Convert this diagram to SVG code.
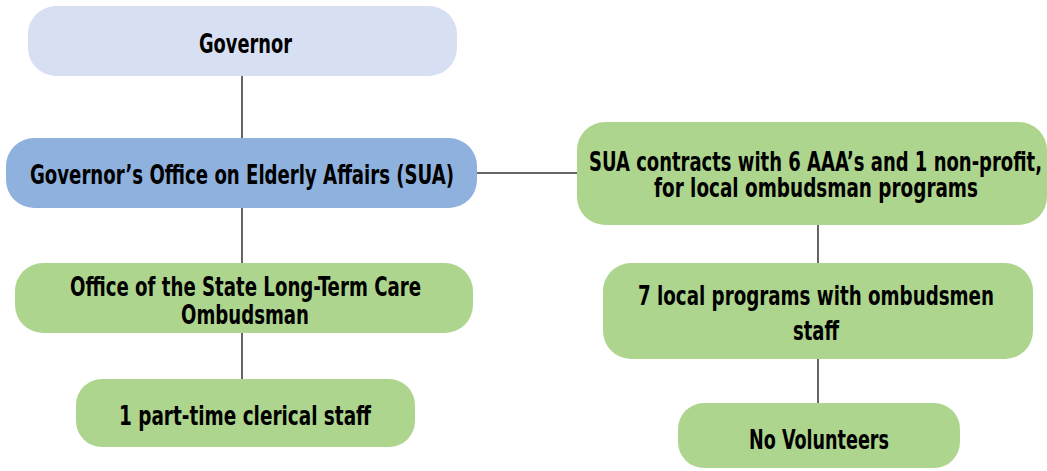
<svg xmlns="http://www.w3.org/2000/svg" width="1047" height="471" viewBox="0 0 1047 471">
<style>
.t{font-family:"Liberation Sans Narrow","DejaVu Sans Condensed","Liberation Sans",sans-serif;font-weight:bold;font-size:27px;fill:#000;text-anchor:middle}
.c{stroke:#666;stroke-width:2;fill:none}
.g{fill:#aed58e}
</style>
<rect width="1047" height="471" fill="#fff"/>
<g id="connectors">
<line class="c" x1="242" y1="76" x2="242" y2="138"/>
<line class="c" x1="242" y1="208" x2="242" y2="263"/>
<line class="c" x1="242" y1="333" x2="242" y2="379"/>
<line class="c" x1="477" y1="173" x2="577" y2="173"/>
<line class="c" x1="818" y1="225" x2="818" y2="263"/>
<line class="c" x1="818" y1="359" x2="818" y2="403"/>
</g>
<g id="governor">
<rect x="28" y="6" width="429" height="70" rx="28" fill="#d7dff2"/>
<text class="t" x="245.5" y="53" textLength="93" lengthAdjust="spacingAndGlyphs">Governor</text>
</g>
<g id="sua">
<rect x="6" y="138" width="471" height="70" rx="28" fill="#8fb1dd"/>
<text class="t" x="242" y="184" textLength="424" lengthAdjust="spacingAndGlyphs">Governor’s Office on Elderly Affairs (SUA)</text>
</g>
<g id="state-ombudsman">
<rect class="g" x="15" y="263" width="458" height="70" rx="28"/>
<text class="t" x="245.5" y="296" textLength="351" lengthAdjust="spacingAndGlyphs">Office of the State Long-Term Care</text>
<text class="t" x="245" y="324" textLength="128" lengthAdjust="spacingAndGlyphs">Ombudsman</text>
</g>
<g id="clerical">
<rect class="g" x="76" y="379" width="339" height="68" rx="26"/>
<text class="t" x="245" y="425" textLength="252" lengthAdjust="spacingAndGlyphs">1 part-time clerical staff</text>
</g>
<g id="contracts">
<rect class="g" x="577" y="122" width="470" height="103" rx="28"/>
<text class="t" x="815.5" y="171" textLength="453" lengthAdjust="spacingAndGlyphs">SUA contracts with 6 AAA’s and 1 non-profit,</text>
<text class="t" x="816" y="197" textLength="324" lengthAdjust="spacingAndGlyphs">for local ombudsman programs</text>
</g>
<g id="local-programs">
<rect class="g" x="603" y="263" width="430" height="96" rx="28"/>
<text class="t" x="816" y="305" textLength="356" lengthAdjust="spacingAndGlyphs">7 local programs with ombudsmen</text>
<text class="t" x="816" y="340" textLength="46" lengthAdjust="spacingAndGlyphs">staff</text>
</g>
<g id="volunteers">
<rect class="g" x="678" y="403" width="282" height="65" rx="26"/>
<text class="t" x="819" y="449" textLength="140" lengthAdjust="spacingAndGlyphs">No Volunteers</text>
</g>
</svg>
